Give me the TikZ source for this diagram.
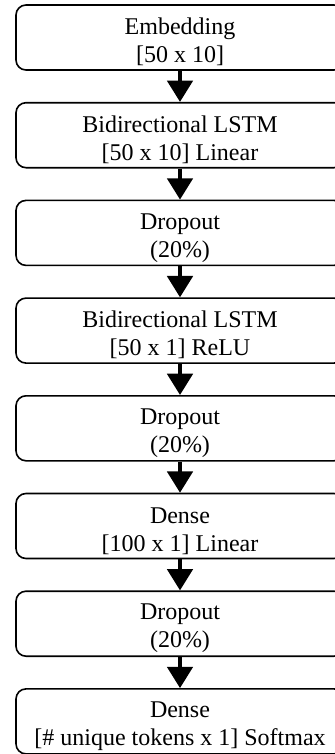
\documentclass[tikz,border=0pt]{standalone}
\usepackage{fontspec}
\setmainfont{Liberation Serif}
\usetikzlibrary{arrows.meta}

\newcommand{\topstrut}{\rule{0pt}{19pt}}

\tikzset{
  layerbox/.style={draw, line width=1.2pt, rounded corners=7.5pt, inner sep=0pt,
    minimum width=246pt, minimum height=48.75pt, align=center,
    font=\fontsize{18}{21}\selectfont},
  flowarrow/.style={line width=3pt, -{Triangle[width=19pt,length=16pt]}}
}

\begin{document}
\begin{tikzpicture}[x=0.75pt,y=0.75pt,yscale=-1,xscale=1]
%set diagram left start at 0, and has height of 754
\useasboundingbox (0,0) rectangle (335,754);

% Layer Boxes
\node [layerbox] (emb)   at (180,37.5)  {\topstrut Embedding\\{}[50 x 10]};
\node [layerbox] (lstma) at (180,135.2) {\topstrut Bidirectional LSTM\\{}[50 x 10] Linear};
\node [layerbox] (dropa) at (180,232.9) {\topstrut Dropout\\(20\%)};
\node [layerbox] (lstmb) at (180,330.6) {\topstrut Bidirectional LSTM\\{}[50 x 1] ReLU};
\node [layerbox] (dropb) at (180,428.3) {\topstrut Dropout\\(20\%)};
\node [layerbox] (densa) at (180,526)   {\topstrut Dense\\{}[100 x 1] Linear};
\node [layerbox] (dropc) at (180,623.7) {\topstrut Dropout\\(20\%)};
\node [layerbox] (densb) at (180,721.4) {\topstrut Dense\\{}[\# unique tokens x 1] Softmax};

% Arrows
\draw [flowarrow] (emb)   -- (lstma) ;
\draw [flowarrow] (lstma) -- (dropa) ;
\draw [flowarrow] (dropa) -- (lstmb) ;
\draw [flowarrow] (lstmb) -- (dropb) ;
\draw [flowarrow] (dropb) -- (densa) ;
\draw [flowarrow] (densa) -- (dropc) ;
\draw [flowarrow] (dropc) -- (densb) ;

\end{tikzpicture}
\end{document}
